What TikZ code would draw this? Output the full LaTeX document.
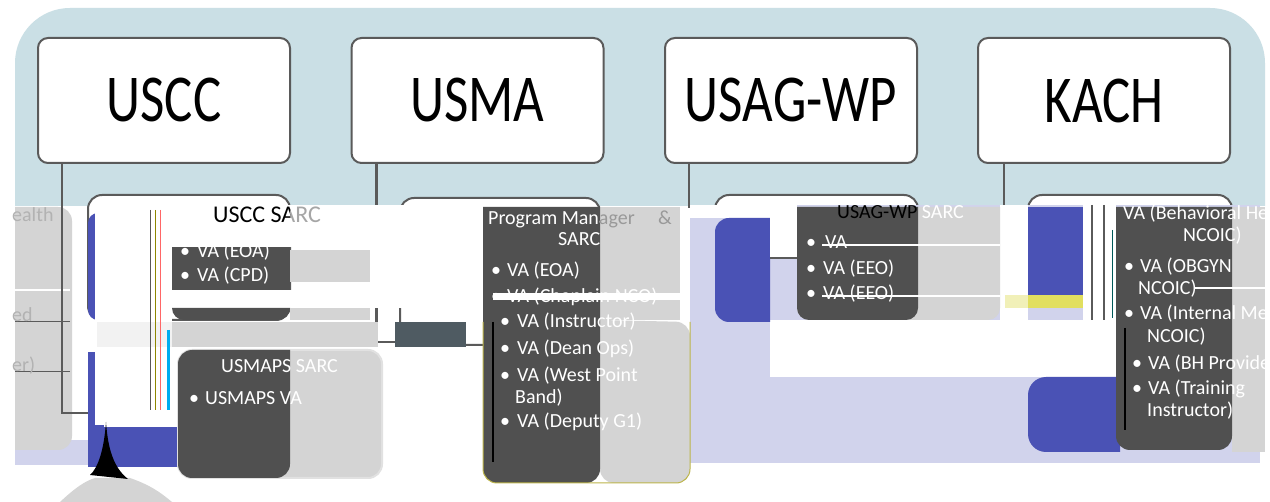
\documentclass[tikz,border=0pt]{standalone}
\usepackage{fontspec}
\setmainfont{Carlito}
\definecolor{panel}{HTML}{CADFE5}
\definecolor{lav}{HTML}{D1D3EC}
\definecolor{vblue}{HTML}{4A52B5}
\definecolor{dgray}{HTML}{505050}
\definecolor{lgray}{HTML}{D4D4D4}
\definecolor{edge}{HTML}{5A5A5A}
\definecolor{yel}{HTML}{E1DF5F}
\definecolor{paleyel}{HTML}{F1F0B8}
\definecolor{slate}{HTML}{4F5B62}
\tikzset{
  topbox/.style={draw=edge, line width=2pt, fill=white, rounded corners=10pt,
    minimum width=252pt, minimum height=125pt, inner sep=0pt,
    font=\fontsize{67}{67}\selectfont},
  subbox/.style={draw=edge, line width=2pt, fill=white, rounded corners=14pt, inner sep=0pt},
  conn/.style={draw=edge, line width=2.2pt},
  body/.style={anchor=base west, inner sep=0pt, text=white, font=\fontsize{20}{20}\selectfont},
  head/.style={anchor=base west, inner sep=0pt, font=\fontsize{21}{21}\selectfont},
  dot/.style={anchor=base west, inner sep=0pt, text=white, font=\fontsize{20}{20}\selectfont},
}
\begin{document}
\begin{tikzpicture}[x=1pt,y=-1pt]
\useasboundingbox (0,0) rectangle (1270,502);
\fill[white] (0,0) rectangle (1270,502);
% light blue panel (upper part)
\begin{scope}
  \clip (0,0) rectangle (1270,206);
  \fill[panel, rounded corners=55pt] (15,8) rectangle (1265,420);
\end{scope}
% top boxes
\node[topbox] (uscc) at (164,100.5) {\scalebox{0.79}[1]{USCC}};
\node[topbox] (usma) at (477.5,100.5) {\scalebox{0.79}[1]{USMA}};
\node[topbox] (usag) at (791,100.5) {\scalebox{0.79}[1]{USAG-WP}};
\node[topbox] (kach) at (1104,100.5) {\scalebox{0.79}[1]{KACH}};
% child box outlines
\node[subbox, minimum width=202pt, minimum height=125pt] (usccsarc) at (189,257.5) {};
\node[subbox, minimum width=200pt, minimum height=147pt] (pm) at (500,271.5) {};
\node[subbox, minimum width=203pt, minimum height=127pt] (usagsarc) at (816.5,258.5) {};
\node[subbox, minimum width=204pt, minimum height=257pt] (kachsub) at (1130,323.5) {};
% connectors (USCC one is drawn later, above the overlays)
\coordinate (c1) at (88,413);
\coordinate (c2) at (397,342);
\draw[conn] (usma.south west) ++(26,0) |- (c2);
\draw[conn] (usag.south west) ++(25,0) -- ++(0,44);
\draw[conn] (kach.south west) ++(27,0) -- ++(0,44);
% ---------- lower glitch layers ----------
% lavender backgrounds
\fill[lav] (690,205) rectangle (1260,463);
\fill[lav] (15,440) rectangle (178,465);
\fill[white] (690,205) rectangle (770,218);
\fill[white] (770,320) rectangle (1118,377);
\fill[white] (1000,205) rectangle (1028,322);
\fill[white] (1083,205) rectangle (1116,322);
\draw[edge, line width=1.5pt] (1092,205) -- (1092,320);
\draw[edge, line width=1.5pt] (1104,205) -- (1104,320);
\draw[teal!70!black, line width=1pt] (1112,230) -- (1112,318);
% blue blocks
\fill[vblue] (770,218) [rounded corners=14pt] -- (715,218) -- (715,322) [sharp corners] -- (770,322) -- cycle;
\fill[vblue] (1028,207) rectangle (1083,295);
\fill[vblue] (1120,377) [rounded corners=18pt] -- (1028,377) -- (1028,452) [sharp corners] -- (1120,452) -- cycle;
\fill[yel] (1028,295) rectangle (1083,308);
\fill[paleyel] (1005,295) rectangle (1028,308);
% col 3 box
\fill[lgray] (797,207) [rounded corners=12pt] -- (797,320) -- (1000,320) [sharp corners] -- (1000,207) -- cycle;
\fill[dgray] (797,207) [rounded corners=12pt] -- (797,320) -- (918,320) [sharp corners] -- (918,207) -- cycle;
\fill[white] (770,205) rectangle (797,258);
\draw[edge, line width=1.5pt] (770,258) -- (797,258);
\draw[white, line width=2pt] (822,245) -- (1000,245);
\draw[white, line width=2pt] (822,296) -- (1000,296);
% col 4 box
\fill[lgray] (1232,207) rectangle (1265,452);
\fill[dgray] (1116,207) [rounded corners=14pt] -- (1116,450) -- (1232,450) [sharp corners] -- (1232,207) -- cycle;
\draw[black, line width=1.5pt] (1125,328) -- (1125,430);
\draw[white, line width=2pt] (1195,288) -- (1265,288);
% col 2 box
\fill[lgray] (600,207) rectangle (680,320);
\fill[lgray] (600,320) [rounded corners=14pt] -- (600,483) -- (690,483) -- (690,322) [sharp corners] -- cycle;
\fill[dgray] (483,207) [rounded corners=14pt] -- (483,483) -- (600,483) [sharp corners] -- (600,207) -- cycle;
\fill[white] (370,205) rectangle (481,308);
\fill[slate] (395,322) rectangle (466,347);
\fill[white] (493,293) rectangle (680,300);
\draw[black, line width=1.5pt] (493,322) -- (493,462);
\draw[olive!60, line width=1pt, rounded corners=14pt] (483,322) -- (483,483) -- (690,483) -- (690,322);
% col 1
\fill[lgray, rounded corners=14pt] (-20,207) rectangle (72,450);
\fill[white] (0,0) rectangle (15,502);
\draw[white, line width=1.5pt] (15,290) -- (70,290);
\draw[edge, line width=1pt] (15,322) -- (70,322);
\draw[edge, line width=1pt] (15,372) -- (70,372);
\fill[vblue] (95,213) [rounded corners=10pt] -- (88,213) -- (88,320) [sharp corners] -- (95,320) -- cycle;
\fill[vblue] (88,352) rectangle (104,427);
\fill[vblue] (88,427) rectangle (178,467);
\fill[white] (95,205) rectangle (172,425);
\fill[black!5] (97,322) rectangle (172,347);
\draw[red!60, line width=0.8pt] (160,210) -- (160,410);
\draw[cyan, line width=3pt] (168,330) -- (168,410);
\draw[olive, line width=1pt] (155,210) -- (155,410);
\draw[edge, line width=1pt] (150,210) -- (150,410);
\fill[white] (172,205) rectangle (370,247);
\fill[dgray] (172,247) rectangle (290,290);
\fill[white] (172,290) rectangle (370,308);
\fill[dgray] (172,308) [rounded corners=12pt] -- (172,320) -- (290,320) [sharp corners] -- (290,308) -- cycle;
\fill[lgray] (290,250) rectangle (370,282);
\fill[lgray] (290,308) rectangle (370,320);
\fill[lgray] (172,322) rectangle (378,347);
\draw[conn] (uscc.south west) ++(25,0) |- (c1);
% USMAPS SARC box
\node[draw=lgray!70!white, line width=2pt, fill=lgray, rounded corners=14pt, minimum width=204pt, minimum height=128pt, inner sep=0pt] (usmaps) at (280,414) {};
\fill[dgray] (290,350) -- (192,350) [rounded corners=14pt] -- (178,350) -- (178,478) -- (290,478) [sharp corners] -- cycle;
% black concave shape and gray arc
\fill[lgray] (60,502) .. controls (75,488) and (85,481) .. (95,478) -- (130,478) .. controls (150,485) and (160,492) .. (172,502) -- cycle;
\fill[black] (106,422) .. controls (104,450) and (98,468) .. (90,475) -- (128,479) .. controls (114,468) and (108,450) .. (106,422) -- cycle;
% ---------- texts ----------
% col 1
\begin{scope}
  \clip (0,0) rectangle (290,502);
  \node[head, text=black, font=\fontsize{24}{24}\selectfont] at (213,223) {USCC SARC};
\end{scope}
\begin{scope}
  \clip (290,0) rectangle (1270,502);
  \node[head, text=gray!70, font=\fontsize{24}{24}\selectfont] at (213,223) {USCC SARC};
\end{scope}
\node[dot] at (180,258) {•};
\node[body] at (197,258) {VA (EOA)};
\node[dot] at (180,282) {•};
\node[body] at (197,282) {VA (CPD)};
\node[body] at (221,373) {USMAPS SARC};
\node[dot] at (189,405) {•};
\node[body] at (205,405) {USMAPS VA};
\node[body, text=gray!60] at (12,222) {ealth};
\node[body, text=gray!60] at (12,322) {ed};
\node[body, text=gray!60] at (12,372) {er)};
% col 2
\begin{scope}
  \clip (0,0) rectangle (600,502);
  \node[head, text=white, font=\fontsize{20}{20}\selectfont] at (488,225) {Program Manager};
\end{scope}
\begin{scope}
  \clip (600,0) rectangle (1270,502);
  \node[head, text=gray!80, font=\fontsize{20}{20}\selectfont] at (488,225) {Program Manager};
\end{scope}
\node[head, text=gray!80, font=\fontsize{20}{20}\selectfont] at (658,225) {\&};
\node[body] at (558,246) {SARC};
\node[dot] at (491,277) {•};
\node[body] at (507,277) {VA (EOA)};
\node[dot] at (491,303) {•};
\node[body] at (507,303) {VA (Chaplain NCO)};
\node[dot] at (500,328) {•};
\node[body] at (517,328) {VA (Instructor)};
\node[dot] at (500,355) {•};
\node[body] at (517,355) {VA (Dean Ops)};
\node[dot] at (500,382) {•};
\node[body] at (517,382) {VA (West Point};
\node[body] at (515,404) {Band)};
\node[dot] at (500,428) {•};
\node[body] at (517,428) {VA (Deputy G1)};
% col 3
\begin{scope}
  \clip (0,0) rectangle (918,502);
  \node[head, text=black, font=\fontsize{20}{20}\selectfont] at (837,219) {USAG-WP SARC};
\end{scope}
\begin{scope}
  \clip (918,0) rectangle (1270,502);
  \node[head, text=white, font=\fontsize{20}{20}\selectfont] at (837,219) {USAG-WP SARC};
\end{scope}
\node[dot] at (806,249) {•};
\node[body] at (825,249) {VA};
\node[dot] at (806,275) {•};
\node[body] at (823,275) {VA (EEO)};
\node[dot] at (806,300) {•};
\node[body] at (823,300) {VA (EEO)};
% col 4
\node[body] at (1123,220) {VA (Behavioral Health};
\node[body] at (1183,242) {NCOIC)};
\node[dot] at (1124,273) {•};
\node[body] at (1140,273) {VA (OBGYN};
\node[body] at (1138,295) {NCOIC)};
\node[dot] at (1124,320) {•};
\node[body] at (1140,320) {VA (Internal Medicine};
\node[body] at (1147,343) {NCOIC)};
\node[dot] at (1132,370) {•};
\node[body] at (1148,370) {VA (BH Provider)};
\node[dot] at (1132,395) {•};
\node[body] at (1148,395) {VA (Training};
\node[body] at (1147,417) {Instructor)};
\end{tikzpicture}
\end{document}
